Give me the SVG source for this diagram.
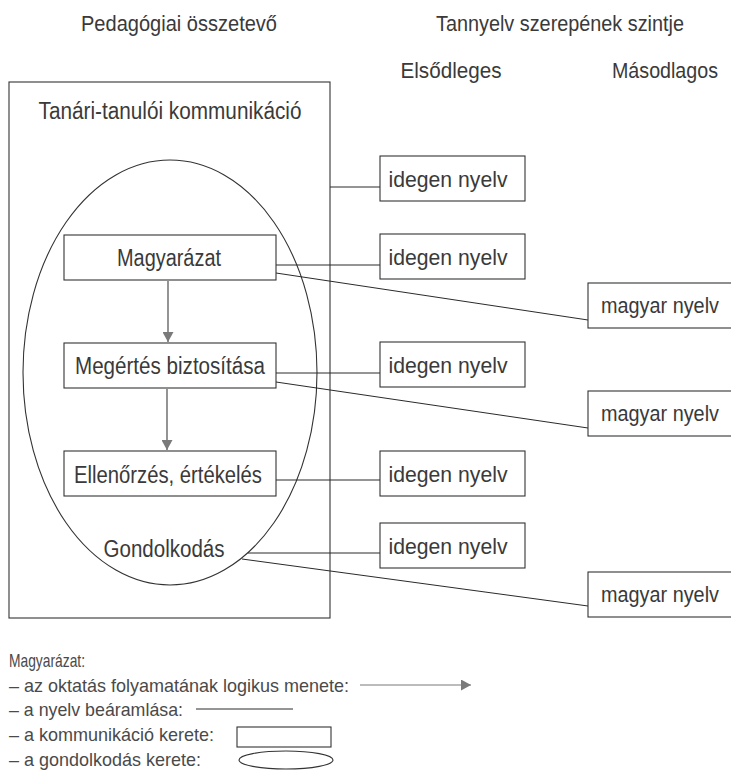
<svg xmlns="http://www.w3.org/2000/svg" width="731" height="779" viewBox="0 0 731 779">
<style>
  text { font-family: "Liberation Sans", Arial, sans-serif; fill: #3a3a3a; }
  .h { font-size: 22px; }
  .t { font-size: 23px; text-anchor: middle; }
  .n { font-size: 22px; text-anchor: middle; }
  .lg { font-size: 19px; fill: #4a4a4a; }
  .box { fill: #fff; stroke: #333; stroke-width: 1.1; }
  .frame { fill: none; stroke: #333; stroke-width: 1.1; }
  .ln { fill: none; stroke: #2a2a2a; stroke-width: 1; }
  .flow { fill: none; stroke: #7a7a7a; stroke-width: 1.6; }
</style>
<defs>
  <marker id="ah" markerUnits="userSpaceOnUse" markerWidth="11" markerHeight="11" refX="10" refY="5.5" orient="auto">
    <path d="M0,0 L10,5.5 L0,11 Z" fill="#7a7a7a"/>
  </marker>
</defs>

<!-- headers -->
<g id="headers">
  <text class="h" x="179" y="31" text-anchor="middle" textLength="196" lengthAdjust="spacingAndGlyphs">Pedagógiai összetevő</text>
  <text class="h" x="560" y="31" text-anchor="middle" textLength="248" lengthAdjust="spacingAndGlyphs">Tannyelv szerepének szintje</text>
  <text class="h" x="451" y="78" text-anchor="middle" textLength="101" lengthAdjust="spacingAndGlyphs">Elsődleges</text>
  <text class="h" x="665" y="78" text-anchor="middle" textLength="106" lengthAdjust="spacingAndGlyphs">Másodlagos</text>
</g>

<!-- communication frame -->
<g id="kommunikacio">
  <rect class="frame" x="9" y="82" width="321" height="536"/>
  <text class="t" x="170" y="119" textLength="263" lengthAdjust="spacingAndGlyphs">Tanári-tanulói kommunikáció</text>
</g>

<!-- thinking frame -->
<g id="gondolkodas">
  <ellipse class="frame" cx="170" cy="372.5" rx="147" ry="212.5"/>
  <text class="t" x="164" y="557" textLength="121" lengthAdjust="spacingAndGlyphs">Gondolkodás</text>
</g>

<!-- connectors -->
<g id="connectors">
  <line class="flow" x1="168" y1="281" x2="168" y2="342" marker-end="url(#ah)"/>
  <line class="flow" x1="167" y1="389" x2="167" y2="450" marker-end="url(#ah)"/>
  <line class="ln" x1="330" y1="187" x2="380" y2="187"/>
  <line class="ln" x1="276" y1="265" x2="380" y2="265"/>
  <line class="ln" x1="276" y1="273" x2="588" y2="320"/>
  <line class="ln" x1="276" y1="373" x2="380" y2="373"/>
  <line class="ln" x1="276" y1="382" x2="588" y2="428"/>
  <line class="ln" x1="276" y1="480" x2="380" y2="480"/>
  <line class="ln" x1="248" y1="553" x2="380" y2="553"/>
  <line class="ln" x1="242" y1="559" x2="588" y2="606"/>
</g>

<!-- pedagogical steps -->
<g id="magyarazat">
  <rect class="box" x="64" y="235" width="212" height="45"/>
  <text class="t" x="169" y="266" textLength="104" lengthAdjust="spacingAndGlyphs">Magyarázat</text>
</g>
<g id="megertes">
  <rect class="box" x="64" y="343" width="212" height="45"/>
  <text class="t" x="170" y="374" textLength="190" lengthAdjust="spacingAndGlyphs">Megértés biztosítása</text>
</g>
<g id="ellenorzes">
  <rect class="box" x="64" y="451" width="212" height="45"/>
  <text class="t" x="168" y="483" textLength="188" lengthAdjust="spacingAndGlyphs">Ellenőrzés, értékelés</text>
</g>

<!-- primary language boxes -->
<g id="idegen1">
  <rect class="box" x="380" y="156" width="145" height="45"/>
  <text class="n" x="448" y="186.5" textLength="119" lengthAdjust="spacingAndGlyphs">idegen nyelv</text>
</g>
<g id="idegen2">
  <rect class="box" x="380" y="234" width="145" height="45"/>
  <text class="n" x="448" y="264.5" textLength="119" lengthAdjust="spacingAndGlyphs">idegen nyelv</text>
</g>
<g id="idegen3">
  <rect class="box" x="380" y="342" width="145" height="45"/>
  <text class="n" x="448" y="372.5" textLength="119" lengthAdjust="spacingAndGlyphs">idegen nyelv</text>
</g>
<g id="idegen4">
  <rect class="box" x="380" y="451" width="145" height="45"/>
  <text class="n" x="448" y="481.5" textLength="119" lengthAdjust="spacingAndGlyphs">idegen nyelv</text>
</g>
<g id="idegen5">
  <rect class="box" x="380" y="523" width="145" height="45"/>
  <text class="n" x="448" y="553.5" textLength="119" lengthAdjust="spacingAndGlyphs">idegen nyelv</text>
</g>

<!-- secondary language boxes -->
<g id="magyar1">
  <rect class="box" x="588" y="283" width="150" height="45"/>
  <text class="n" x="660" y="313" textLength="118" lengthAdjust="spacingAndGlyphs">magyar nyelv</text>
</g>
<g id="magyar2">
  <rect class="box" x="588" y="391" width="150" height="45"/>
  <text class="n" x="660" y="421" textLength="118" lengthAdjust="spacingAndGlyphs">magyar nyelv</text>
</g>
<g id="magyar3">
  <rect class="box" x="588" y="572" width="150" height="45"/>
  <text class="n" x="660" y="602" textLength="118" lengthAdjust="spacingAndGlyphs">magyar nyelv</text>
</g>

<!-- legend -->
<g id="legend">
  <text class="lg" x="9" y="667" textLength="76" lengthAdjust="spacingAndGlyphs">Magyarázat:</text>
  <text class="lg" x="9" y="692" textLength="340" lengthAdjust="spacingAndGlyphs">– az oktatás folyamatának logikus menete:</text>
  <line class="flow" x1="360" y1="685" x2="471" y2="685" marker-end="url(#ah)" style="stroke-width:1.2"/>
  <text class="lg" x="9" y="716" textLength="174" lengthAdjust="spacingAndGlyphs">– a nyelv beáramlása:</text>
  <line class="ln" x1="196" y1="709" x2="293" y2="709"/>
  <text class="lg" x="9" y="741" textLength="205" lengthAdjust="spacingAndGlyphs">– a kommunikáció kerete:</text>
  <rect class="frame" x="237" y="727" width="94" height="20"/>
  <text class="lg" x="9" y="766" textLength="192" lengthAdjust="spacingAndGlyphs">– a gondolkodás kerete:</text>
  <ellipse class="frame" cx="286" cy="760" rx="47" ry="9"/>
</g>
</svg>
